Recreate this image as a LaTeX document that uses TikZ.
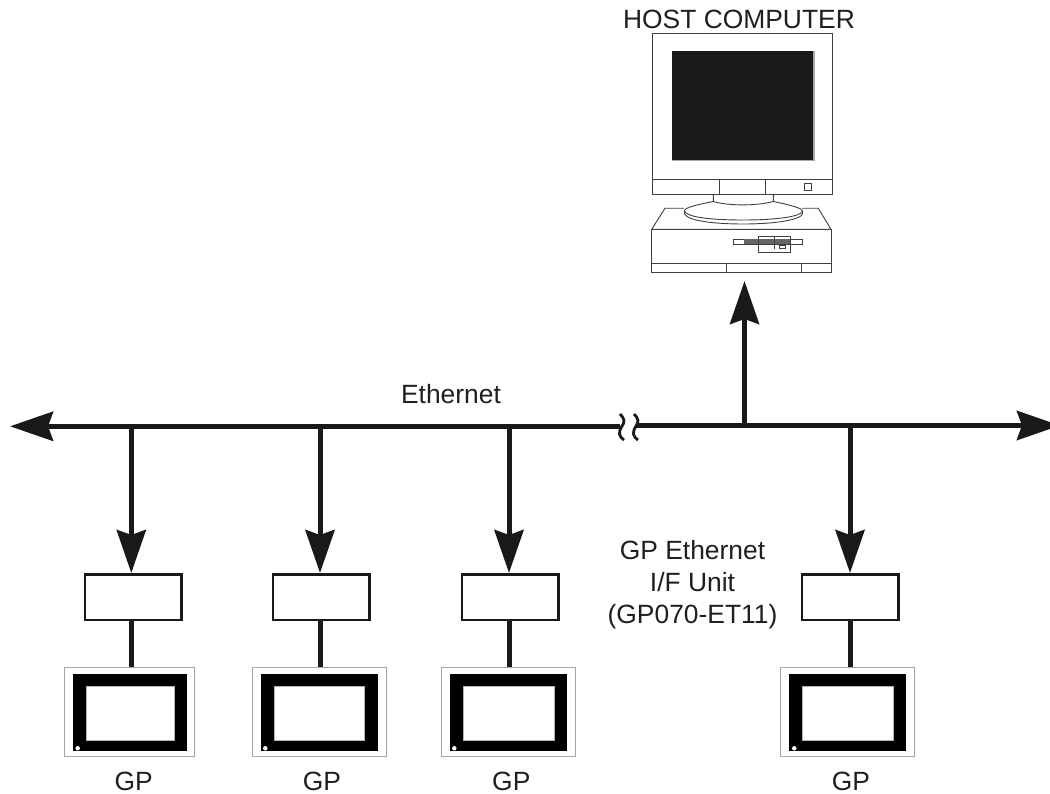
\documentclass[tikz,border=0pt]{standalone}
\usepackage{fontspec}
\setmainfont{Liberation Sans}
\usetikzlibrary{arrows.meta}
\tikzset{
  bigtip/.tip={Stealth[length=43pt,width=29pt,inset=5pt]},
  busline/.style={line width=5.5pt,color=black!90},
  tapline/.style={line width=5pt,color=black!90},
  breakline/.style={line width=2.8pt,color=black!90},
  ifbox/.style={draw=black!90,line width=2.5pt,fill=white,minimum width=96.5pt,minimum height=45.5pt,inner sep=0pt},
  gpframe/.style={draw=black!35,line width=1.3pt,fill=white,minimum width=134pt,minimum height=89pt,inner sep=0pt},
  gpbezel/.style={fill=black,minimum width=117.5pt,minimum height=77.5pt,inner sep=0pt},
  gpglass/.style={fill=white,draw=black!30,line width=.6pt,minimum width=90.5pt,minimum height=54pt,inner sep=0pt},
  gplamp/.style={circle,fill=white,inner sep=1.6pt},
  caption/.style={font=\fontsize{26.4}{32.3}\selectfont,text=black!88,inner sep=0pt,align=center},
  pcline/.style={draw=black!75,line width=.9pt},
  pcthin/.style={draw=black!75,line width=.7pt},
}
\begin{document}
\begin{tikzpicture}[line cap=butt,line join=miter,x=1pt,y=-1pt]
\useasboundingbox (0,0) rectangle (1050,794);
\clip (0,0) rectangle (1050,794);
% bus
\coordinate (busleft) at (10,426.3);
\coordinate (busbreakl) at (620,426.3);
\coordinate (busbreakr) at (636,425.5);
\coordinate (busright) at (1060,425.5);
\coordinate (tapa) at (131.3,426);
\coordinate (tapb) at (320,426);
\coordinate (tapc) at (509,426);
\coordinate (tapd) at (850,426);
\coordinate (taphost) at (744.5,426);
\coordinate (hosttip) at (744.5,281);
\draw[busline,-{bigtip}] (busbreakl) -- (busleft);
\draw[busline,-{bigtip}] (busbreakr) -- (busright);
\draw[breakline] (620,414) .. controls (625,419) and (625,422) .. (621.5,427) .. controls (618,432) and (619,437) .. (624,440);
\draw[breakline] (634,414) .. controls (639,419) and (639,422) .. (635.5,427) .. controls (632,432) and (633,437) .. (638,440);
\draw[tapline,-{bigtip}] (taphost) -- (hosttip);
% interface units
\node[ifbox] (ifa) at (133.3,597) {};
\node[ifbox] (ifb) at (321,597) {};
\node[ifbox] (ifc) at (510,597) {};
\node[ifbox] (ifd) at (850.3,597) {};
% terminals
\node[gpframe,minimum width=130pt] (gpa) at (129.7,712) {};
\node[gpbezel,minimum width=114pt] (bezela) at (129.7,712.5) {};
\node[gpglass,minimum width=87.7pt] (glassa) at (130.2,713) {};
\node[gplamp] (lampa) at (77.7,748.3) {};
\node[gpframe] (gpb) at (319.2,712) {};
\node[gpbezel] (bezelb) at (319.5,712.5) {};
\node[gpglass] (glassb) at (319.3,713) {};
\node[gplamp] (lampb) at (265.3,748.3) {};
\node[gpframe] (gpc) at (508.2,712) {};
\node[gpbezel] (bezelc) at (508.3,712.5) {};
\node[gpglass] (glassc) at (508.7,713) {};
\node[gplamp] (lampc) at (454.3,748.3) {};
\node[gpframe] (gpd) at (847.8,712) {};
\node[gpbezel] (bezeld) at (847.5,712.5) {};
\node[gpglass] (glassd) at (848,713) {};
\node[gplamp] (lampd) at (794.3,748.3) {};
% drops
\draw[tapline,-{bigtip}] (tapa) -- (tapa |- ifa.north);
\draw[tapline,-{bigtip}] (tapb) -- (tapb |- ifb.north);
\draw[tapline,-{bigtip}] (tapc) -- (tapc |- ifc.north);
\draw[tapline,-{bigtip}] (tapd) -- (tapd |- ifd.north);
\draw[tapline] (tapa |- ifa.south) -- (tapa |- gpa.north);
\draw[tapline] (tapb |- ifb.south) -- (tapb |- gpb.north);
\draw[tapline] (tapc |- ifc.south) -- (tapc |- gpc.north);
\draw[tapline] (tapd |- ifd.south) -- (tapd |- gpd.north);
% host computer
\draw[pcline] (652.7,33.3) rectangle (832.3,194.3);
\fill[black!90] (671.7,50.7) rectangle (813,160);
\draw[black!35,line width=1.2pt] (814,50.7) -- (814,160.5) -- (671.7,160.5);
\draw[pcline] (652.7,179.3) -- (832.3,179.3);
\draw[pcline] (719.3,179.3) -- (719.3,194.3);
\draw[pcline] (765.7,179.3) -- (765.7,194.3);
\draw[pcline] (804.7,183.3) rectangle (811.7,190.7);
\draw[pcline] (713.3,194.3) -- (713.3,201.5) .. controls (728,206) and (757,206) .. (773.3,201.5) -- (773.3,194.3);
\draw[pcline] (713.3,201.5) .. controls (695,205) and (684,208) .. (684.5,211) .. controls (686,217) and (710,220) .. (743,220) .. controls (780,220) and (802,216) .. (802.5,211) .. controls (802,208) and (790,205) .. (773.3,201.5);
\draw[pcline] (684.5,211) -- (684.5,214) .. controls (688,221) and (715,224) .. (743,224) .. controls (775,224) and (800,220) .. (802.5,214) -- (802.5,211);
\draw[pcline] (684,208.3) -- (665,208.3) -- (651.7,229.3) -- (831,229.3) -- (818.3,208.3) -- (802,208.3);
\draw[pcline] (651.7,229.3) rectangle (831,263.3);
\draw[pcline] (651.7,263.3) rectangle (831,272.3);
\draw[pcline] (726.3,263.3) -- (726.3,272.3);
\draw[pcline] (801.7,263.3) -- (801.7,272.3);
\draw[pcthin] (733.3,239.3) rectangle (802.3,244.3);
\fill[black!60] (744.3,239.3) rectangle (790,244.3);
\draw[pcthin] (758.3,236) rectangle (790,252.3);
\draw[pcthin] (774.3,236) -- (774.3,249);
\draw[pcthin] (779.3,245) rectangle (785.7,248.3);
% labels
\node[caption,anchor=base] (hostlabel) at (739,29) {HOST COMPUTER};
\node[caption,anchor=base] (buslabel) at (451,403) {Ethernet};
\node[caption] (iflabel) at (692.5,584.5) {GP Ethernet\\I/F Unit\\(GP070-ET11)};
\node[caption,anchor=base] (labela) at (133.7,790) {GP};
\node[caption,anchor=base] (labelb) at (322,790) {GP};
\node[caption,anchor=base] (labelc) at (511.3,790) {GP};
\node[caption,anchor=base] (labeld) at (851,790) {GP};
\end{tikzpicture}
\end{document}
